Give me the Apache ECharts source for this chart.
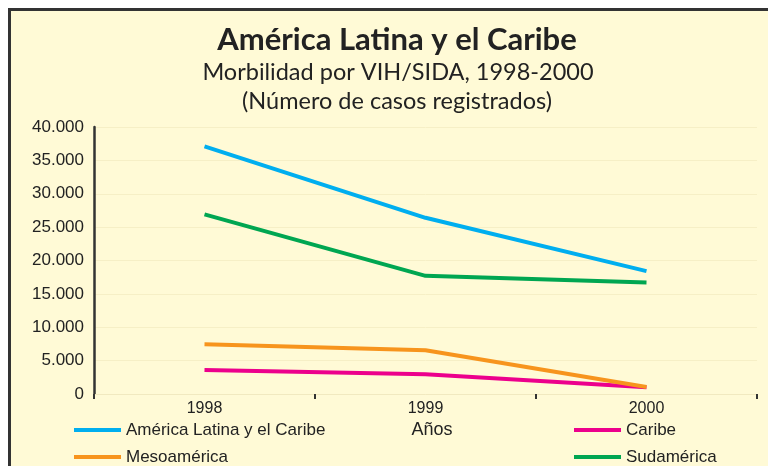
<!DOCTYPE html>
<html>
<head>
<meta charset="utf-8">
<script src="https://cdn.jsdelivr.net/npm/echarts@6/dist/echarts.min.js"></script>
<style>
  body { margin: 0; background: #fff; }
  #frame { position: absolute; left: 8px; top: 8px; width: 800px; height: 500px;
           border: 3px solid #333; background: #fffad6; }
  #chart { position: absolute; left: 0; top: 0; width: 768px; height: 466px; }
</style>
</head>
<body>
<div id="frame"></div>
<div id="chart"></div>
<script>
// datos
const years = ['1998', '1999', '2000']
const americaLatina = [37100, 26400, 18400]
const caribe = [3600, 2950, 1000]
const mesoamerica = [7450, 6550, 1050]
const sudamerica = [26900, 17700, 16700]

const colors = {
  america: '#00aeef',
  caribe: '#ec008c',
  meso: '#f7941d',
  sud: '#00a651'
}

function fmt (v) {
  return v === 0 ? '0' : (v / 1000) + '.000'
}

function serie (name, data, color) {
  return {
    name: name,
    type: 'line',
    data: data,
    symbol: 'none',
    color: color,
    lineStyle: { width: 4, color: color }
  }
}

// una leyenda por elemento, para colocarlas como en el original
function leyenda (name, left, top) {
  return {
    data: [name],
    left: left,
    top: top,
    padding: 0,
    icon: 'rect',
    itemWidth: 47,
    itemHeight: 4,
    textStyle: { fontFamily: 'Liberation Sans', fontSize: 17, color: '#222', lineHeight: 17 }
  }
}

const chart = echarts.init(document.getElementById('chart'))
chart.setOption({
  backgroundColor: 'transparent',
  animation: false,
  graphic: [
    { type: 'text', x: 397, y: 40, style: { text: 'América Latina y el Caribe', fontFamily: 'Lato', fontWeight: 'bold', fontSize: 31, fill: '#222', align: 'center', verticalAlign: 'middle' } },
    { type: 'text', x: 398, y: 72, style: { text: 'Morbilidad por VIH/SIDA, 1998-2000', fontFamily: 'Lato', fontSize: 23.5, fill: '#222', align: 'center', verticalAlign: 'middle' } },
    { type: 'text', x: 397, y: 101, style: { text: '(Número de casos registrados)', fontFamily: 'Lato', fontSize: 23.5, fill: '#222', align: 'center', verticalAlign: 'middle' } },
    { type: 'text', x: 432, y: 430, style: { text: 'Años', fontFamily: 'Liberation Sans', fontSize: 18, fill: '#222', align: 'center', verticalAlign: 'middle' } }
  ],
  legend: [
    leyenda('América Latina y el Caribe', 74, 421.5),
    leyenda('Mesoamérica', 74, 448.5),
    leyenda('Caribe', 574, 421.5),
    leyenda('Sudamérica', 574, 448.5)
  ],
  grid: { left: 94, right: 11, top: 127, bottom: 72 },
  xAxis: {
    type: 'category',
    data: years,
    boundaryGap: true,
    axisLine: { show: true, lineStyle: { color: '#f1e9c0', width: 1 } },
    axisTick: { show: true, length: 5, lineStyle: { color: '#333', width: 2 } },
    axisLabel: { fontFamily: 'Liberation Sans', fontSize: 16, color: '#222', margin: 7 }
  },
  yAxis: {
    type: 'value',
    min: 0,
    max: 40000,
    interval: 5000,
    axisLine: { show: true, lineStyle: { color: '#333', width: 2.5 } },
    axisTick: { show: false },
    splitLine: { show: true, lineStyle: { color: '#f6efc6', width: 1 } },
    axisLabel: {
      fontFamily: 'Liberation Sans', fontSize: 17, color: '#222', margin: 10,
      formatter: fmt
    }
  },
  series: [
    serie('América Latina y el Caribe', americaLatina, colors.america),
    serie('Caribe', caribe, colors.caribe),
    serie('Mesoamérica', mesoamerica, colors.meso),
    serie('Sudamérica', sudamerica, colors.sud)
  ]
})
</script>
</body>
</html>
